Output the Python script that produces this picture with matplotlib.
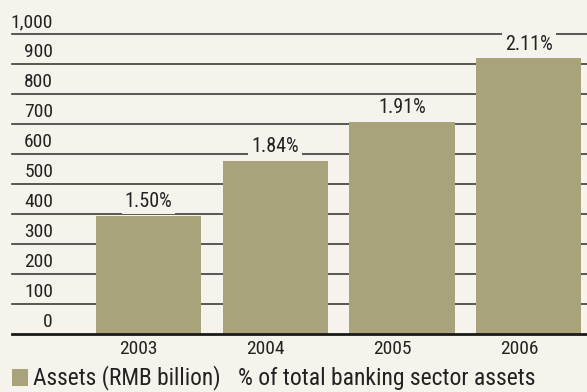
import matplotlib
matplotlib.use("Agg")
import matplotlib.pyplot as plt
from matplotlib.patches import Rectangle
from matplotlib import font_manager

years = ["2003", "2004", "2005", "2006"]
assets = [395, 577, 707, 920]
pct_labels = ["1.50%", "1.84%", "1.91%", "2.11%"]
yticks = [0, 100, 200, 300, 400, 500, 600, 700, 800, 900, 1000]
ytick_labels = ["0", "100", "200", "300", "400", "500", "600", "700", "800", "900", "1,000"]

names = {f.name for f in font_manager.fontManager.ttflist}
fam = "DejaVu Sans"
for cand in ["Roboto Condensed", "Archivo Narrow", "Barlow Semi Condensed", "Liberation Sans Narrow"]:
    if cand in names:
        fam = cand
        break
plt.rcParams["font.family"] = [fam, "DejaVu Sans"]
plt.rcParams["font.weight"] = "normal"

BG = "#f5f3ec"
BAR = "#a8a37a"
GRID = "#3c3c3c"
TXT = "#222222"

W, H = 587, 392
fig = plt.figure(figsize=(W / 100, H / 100), dpi=100, facecolor=BG)
ax = fig.add_axes([12 / W, (H - 334) / H, 575 / W, 300 / H])
ax.set_facecolor(BG)
ax.set_xlim(-1.077, 3.46)
ax.set_ylim(0, 1000)
for s in ax.spines.values():
    s.set_visible(False)
ax.set_xticks([])
ax.set_yticks([])

for v, lab in zip(yticks, ytick_labels):
    if v == 0:
        ax.axhline(v, color="#1a1a1a", lw=2.0, zorder=3, clip_on=False)
    else:
        ax.axhline(v, color=GRID, lw=1.2, zorder=1, clip_on=False)
    ax.annotate(lab, xy=(41 / 575, v), xycoords=("axes fraction", "data"),
                xytext=(0, 2.2), textcoords="offset points",
                ha="right", va="bottom", fontsize=14, color=TXT)

x = list(range(len(years)))
ax.bar(x, assets, width=0.83, color=BAR, zorder=2)

for xi, v, lab in zip(x, assets, pct_labels):
    ax.annotate(lab, xy=(xi, v), xytext=(0, 3.2), textcoords="offset points",
                ha="center", va="bottom", fontsize=14.5, color=TXT, zorder=1.5,
                bbox=dict(boxstyle="square,pad=0.15", fc=BG, ec="none"))
    ax.annotate(years[xi], xy=(xi, 0), xytext=(-7, -4.5), textcoords="offset points",
                ha="center", va="top", fontsize=14, color=TXT)

fig.add_artist(Rectangle((12 / W, (H - 386) / H), 16 / W, 17 / H,
                         transform=fig.transFigure, color=BAR, lw=0))
fig.text(33 / W, (H - 378) / H, "Assets (RMB billion)", ha="left", va="center",
         fontsize=16.8, color=TXT)
fig.text(238 / W, (H - 378) / H, "% of total banking sector assets", ha="left",
         va="center", fontsize=17, color=TXT)

fig.savefig("out.png", dpi=100, facecolor=BG)
